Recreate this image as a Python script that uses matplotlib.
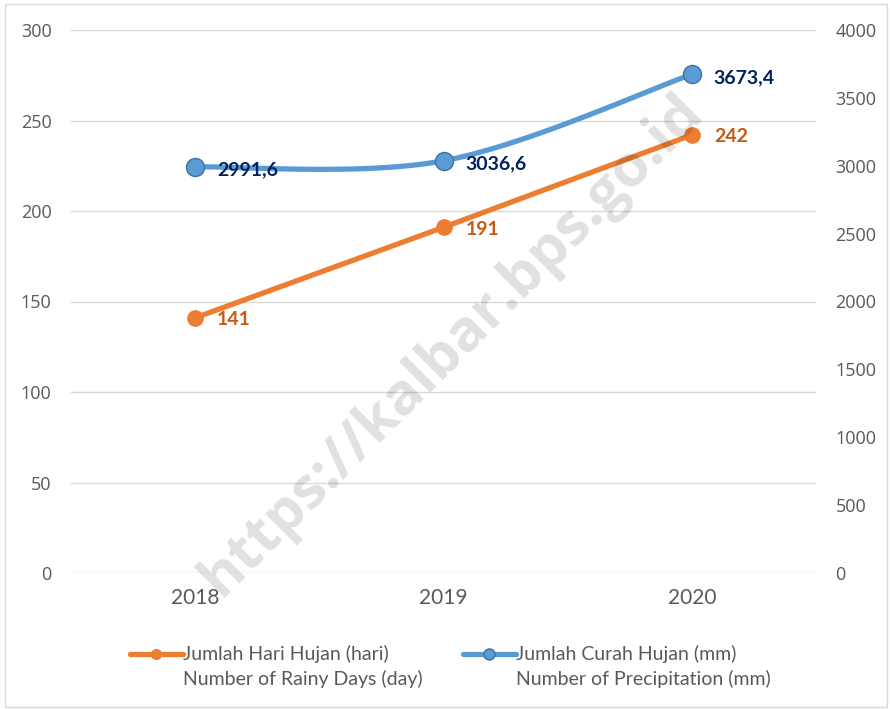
import numpy as np
import matplotlib.pyplot as plt
from matplotlib.lines import Line2D

# donnees
years = ['2018', '2019', '2020']
hari_hujan = [141, 191, 242]
curah_hujan = [2991.6, 3036.6, 3673.4]
lab_hari = ['141', '191', '242']
lab_curah = ['2991,6', '3036,6', '3673,4']
left_ticks = [0, 50, 100, 150, 200, 250, 300]
right_ticks = [0, 500, 1000, 1500, 2000, 2500, 3000, 3500, 4000]

orange = '#ED7D31'
blue = '#5B9BD5'
gris = '#595959'

plt.rcParams['font.family'] = ['Lato', 'DejaVu Sans']

fig = plt.figure(figsize=(8.91, 7.09), dpi=100)
ax = fig.add_axes([71 / 891, 1 - 573 / 709, 745 / 891, 543 / 709])
ax2 = ax.twinx()

x = np.arange(len(years))

# courbe lissee (type Excel, Catmull-Rom)
def smooth(xs, ys, n=40):
    P = np.column_stack([xs, ys]).astype(float)
    P = np.vstack([P[0], P, P[-1]])
    out = []
    for i in range(1, len(P) - 2):
        p0, p1, p2, p3 = P[i - 1], P[i], P[i + 1], P[i + 2]
        t = np.linspace(0, 1, n)[:, None]
        c = 0.5 * ((2 * p1) + (-p0 + p2) * t + (2 * p0 - 5 * p1 + 4 * p2 - p3) * t ** 2
                   + (-p0 + 3 * p1 - 3 * p2 + p3) * t ** 3)
        out.append(c)
    c = np.vstack(out)
    return c[:, 0], c[:, 1]

ax.plot(x, hari_hujan, color=orange, lw=3.8, marker='o', ms=11, zorder=3,
        solid_capstyle='round')
sx, sy = smooth(x, curah_hujan)
ax2.plot(sx, sy, color=blue, lw=3.8, zorder=3, solid_capstyle='round')
ax2.plot(x, curah_hujan, ls='none', marker='o', ms=13, color=blue,
         markeredgecolor='#41719C', markeredgewidth=1, zorder=4)

for xi, v, t in zip(x, hari_hujan, lab_hari):
    ax.annotate(t, (xi, v), xytext=(22, -2), textcoords='offset pixels',
                ha='left', va='center', color='#C55A11', fontsize=14, fontweight='bold')
for xi, v, t in zip(x, curah_hujan, lab_curah):
    ax2.annotate(t, (xi, v), xytext=(22, -3), textcoords='offset pixels',
                 ha='left', va='center', color='#002060', fontsize=14, fontweight='bold')

ax.set_xlim(-0.5, 2.5)
ax.set_ylim(0, 300)
ax2.set_ylim(0, 4000)
ax.set_yticks(left_ticks)
ax2.set_yticks(right_ticks)
ax.set_xticks(x)
ax.set_xticklabels(years, color=gris)
ax.grid(axis='y', color='#D9D9D9', lw=1)
ax.set_axisbelow(True)
for a in (ax, ax2):
    for s in a.spines.values():
        s.set_visible(False)
    a.tick_params(length=0, colors=gris, labelsize=13)
ax.tick_params(axis='y', pad=14)
ax2.tick_params(axis='y', pad=14)
ax.tick_params(axis='x', pad=11, labelsize=15)
for lb in ax.get_yticklabels() + ax2.get_yticklabels():
    lb.set_family(['Open Sans', 'DejaVu Sans'])

# filigrane (par-dessus les courbes, semi-transparent)
fig.text(0.507, 0.513, 'https://kalbar.bps.go.id', rotation=45, fontsize=42,
         fontweight='bold', color='#000000', alpha=0.12, ha='center', va='center',
         family=['Open Sans', 'DejaVu Sans'], zorder=10)

# legende
def entree(x0, col, l1, l2, ms, mec):
    y1 = 1 - 654 / 709
    y2 = 1 - 679 / 709
    fig.add_artist(Line2D([x0 / 891, (x0 + 53) / 891], [y1, y1], color=col, lw=3.8,
                          solid_capstyle='round'))
    fig.add_artist(Line2D([(x0 + 26) / 891], [y1], marker='o', ms=ms, color=col,
                          markeredgecolor=mec))
    fig.text((x0 + 53) / 891, y1, l1, fontsize=14, color=gris, va='center', ha='left')
    fig.text((x0 + 53) / 891, y2, l2, fontsize=14, color=gris, va='center', ha='left')

entree(130, orange, 'Jumlah Hari Hujan (hari)', 'Number of Rainy Days (day)', 7, orange)
entree(463, blue, 'Jumlah Curah Hujan (mm)', 'Number of Precipitation (mm)', 8, '#41719C')

# cadre
fig.add_artist(plt.Rectangle((0.006, 0.003), 0.99, 0.992, fill=False,
                             edgecolor='#D9D9D9', lw=1, transform=fig.transFigure))

fig.savefig('out.png', dpi=100)
